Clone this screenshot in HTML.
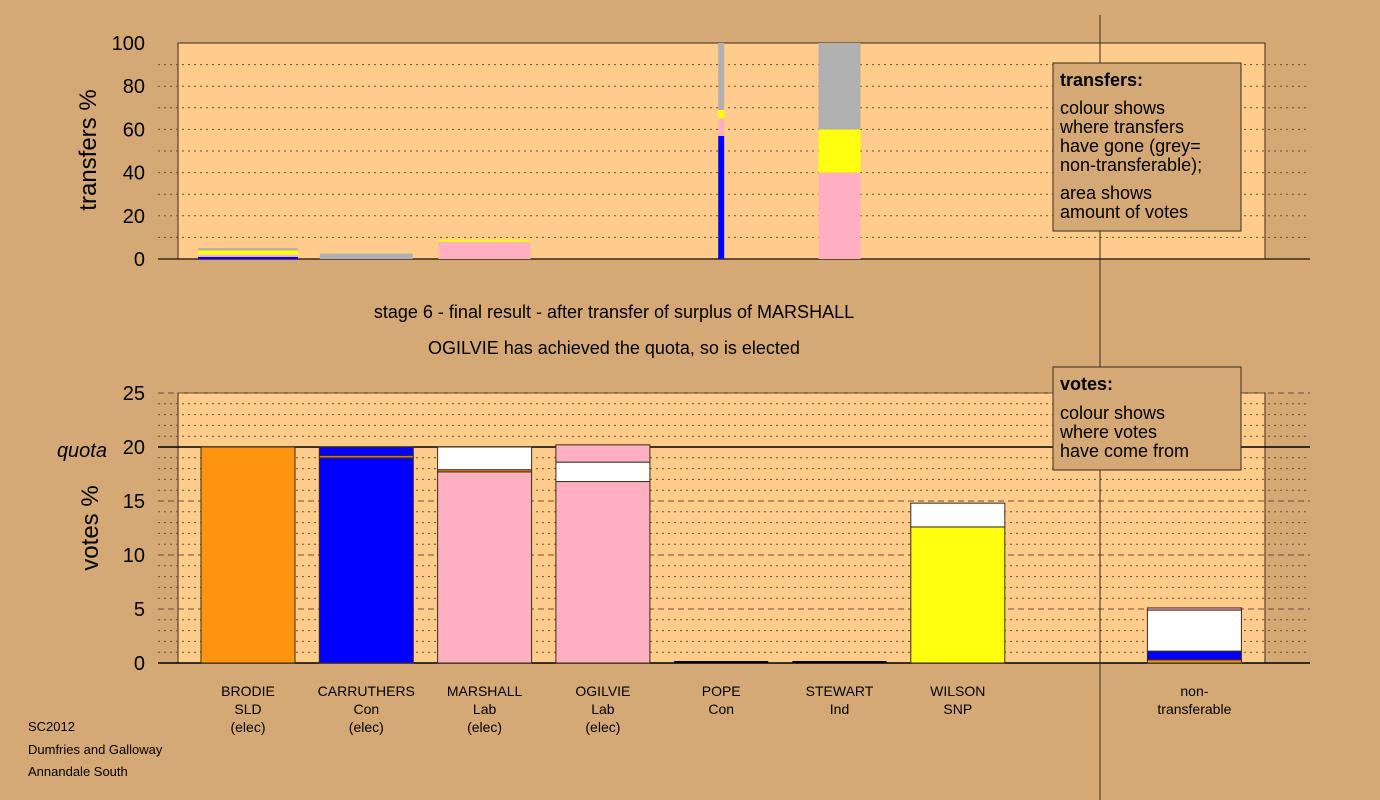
<!DOCTYPE html>
<html><head><meta charset="utf-8"><style>
body{margin:0;background:#d4a976;}
svg{display:block;font-family:"Liberation Sans",sans-serif;}
</style></head><body>
<svg id="c" width="1380" height="800" xmlns="http://www.w3.org/2000/svg">
<rect x="0" y="0" width="1380" height="800" fill="#d4a976"/>
<rect x="178" y="43" width="1087" height="216" fill="#ffcc8c" stroke="#3a2a1a" stroke-width="1"/>
<rect x="178" y="393" width="1087" height="270" fill="#ffcc8c" stroke="#3a2a1a" stroke-width="1"/>
<g id="grid"></g><g id="bars"></g><g id="labels"></g>
<line x1="1100" y1="15" x2="1100" y2="800" stroke="#3a2a1a"/>
<text x="0" y="0" transform="translate(96,150) rotate(-90)" text-anchor="middle" font-size="24">transfers %</text>
<text x="0" y="0" transform="translate(98,528) rotate(-90)" text-anchor="middle" font-size="24">votes %</text>
<text x="614" y="318" text-anchor="middle" font-size="18">stage 6 - final result - after transfer of surplus of MARSHALL</text>
<text x="614" y="354" text-anchor="middle" font-size="18">OGILVIE has achieved the quota, so is elected</text>
<text x="107" y="457" text-anchor="end" font-size="20" font-style="italic">quota</text>
<g>
<rect x="1053" y="63" width="188" height="168" fill="#d4a976" stroke="#3a2a1a"/>
<text x="1060" y="86" font-size="18" font-weight="bold">transfers:</text>
<text x="1060" y="114" font-size="18">colour shows</text>
<text x="1060" y="133" font-size="18">where transfers</text>
<text x="1060" y="152" font-size="18">have gone (grey=</text>
<text x="1060" y="171" font-size="18">non-transferable);</text>
<text x="1060" y="199" font-size="18">area shows</text>
<text x="1060" y="218" font-size="18">amount of votes</text>
</g>
<g>
<rect x="1053" y="367" width="188" height="103" fill="#d4a976" stroke="#3a2a1a"/>
<text x="1060" y="390" font-size="18" font-weight="bold">votes:</text>
<text x="1060" y="419" font-size="18">colour shows</text>
<text x="1060" y="438" font-size="18">where votes</text>
<text x="1060" y="457" font-size="18">have come from</text>
</g>
<g font-size="13">
<text x="28" y="731">SC2012</text>
<text x="28" y="754">Dumfries and Galloway</text>
<text x="28" y="776">Annandale South</text>
</g>
</svg>
<script>
const categories=["BRODIE\nSLD\n(elec)","CARRUTHERS\nCon\n(elec)","MARSHALL\nLab\n(elec)","OGILVIE\nLab\n(elec)","POPE\nCon","STEWART\nInd","WILSON\nSNP","","non-\ntransferable"];
const segColors=["#ff9410","#0000ff","#ffb0c0","#ffffff","#ffff10","#b0b0b0"];
// top transfers: [colourIndex, value] stacks
const transferStacks=[[[1,1],[2,1],[4,2],[5,1]],[[5,2.5]],[[2,8],[4,1]],[],[[1,57],[2,8],[4,4],[5,31]],[[2,40],[4,20],[5,40]],[],[],[]];
const transferWidths=[100,93,92,0,6,42,0,0,0];
// bottom votes stacks
const voteStacks=[[[0,20]],[[1,19],[0,0.2],[1,0.8]],[[2,17.7],[0,0.2],[3,2.1]],[[2,16.8],[3,1.8],[2,1.6]],[],[],[[4,12.6],[3,2.2]],[],[[0,0.3],[1,0.8],[3,3.8],[2,0.2]]];
const transferTicks=[0,20,40,60,80,100];
const voteTicks=[0,5,10,15,20,25];
const NS="http://www.w3.org/2000/svg";
const ty=v=>259-v*2.16, vy=v=>663-v*10.8, cx=i=>248+i*118.3;
function el(tag,attrs,parent){const e=document.createElementNS(NS,tag);for(const k in attrs)e.setAttribute(k,attrs[k]);parent.appendChild(e);return e;}
const grid=document.getElementById('grid'),bars=document.getElementById('bars'),labels=document.getElementById('labels');
for(let v=10;v<100;v+=10){const l=el('line',{x1:158,x2:1310,y1:ty(v),y2:ty(v),stroke:'#6a5030','stroke-dasharray':'2,4'},grid);

}
for(let v=1;v<=25;v++){if(v===20)continue;const l=el('line',{x1:158,x2:1310,y1:vy(v),y2:vy(v),stroke:'#6a5030','stroke-dasharray':v%5?'2,4':'6,4'},grid);

}
let q=el('line',{x1:158,x2:1310,y1:vy(20),y2:vy(20),stroke:'#000','stroke-width':1.5},grid);


let b1=el('line',{x1:158,x2:1310,y1:ty(0),y2:ty(0),stroke:'#3a2a1a','stroke-width':1.5},grid);


let b2=el('line',{x1:158,x2:1310,y1:vy(0),y2:vy(0),stroke:'#000','stroke-width':1.5},grid);


transferTicks.forEach(v=>{const t=el('text',{x:145,y:ty(v)+7,'text-anchor':'end','font-size':20},labels);t.textContent=v;

});
voteTicks.forEach(v=>{const t=el('text',{x:145,y:vy(v)+7,'text-anchor':'end','font-size':20},labels);t.textContent=v;

});
transferStacks.forEach((st,i)=>{let acc=0;const w=transferWidths[i];st.forEach(([c,v])=>{const r=el('rect',{x:cx(i)-w/2,y:ty(acc+v),width:w,height:v*2.16,fill:segColors[c]},bars);

acc+=v;});});
voteStacks.forEach((st,i)=>{let acc=0;st.forEach(([c,v])=>{const r=el('rect',{x:cx(i)-47,y:vy(acc+v),width:94,height:v*10.8,fill:segColors[c],stroke:'#3a2a1a','stroke-width':1},bars);

acc+=v;});
if(!st.length&&categories[i]){const l=el('line',{x1:cx(i)-47,x2:cx(i)+47,y1:662,y2:662,stroke:'#000','stroke-width':2},bars);

}});
categories.forEach((c,i)=>{c.split('\n').forEach((s,j)=>{if(!s)return;const t=el('text',{x:cx(i),y:696+j*18,'text-anchor':'middle','font-size':14},labels);t.textContent=s;

});});
</script>
</body></html>
